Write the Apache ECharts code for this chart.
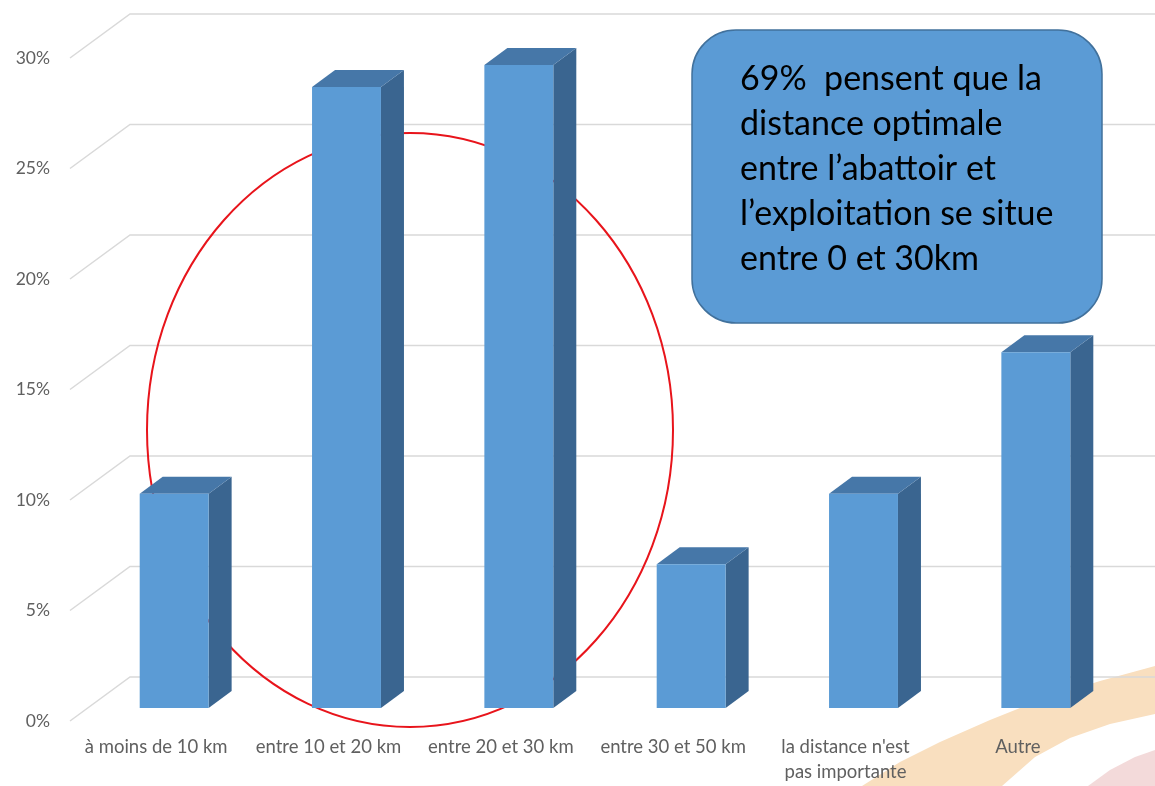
<!DOCTYPE html>
<html>
<head>
<meta charset="utf-8">
<script src="https://cdn.jsdelivr.net/npm/echarts@6/dist/echarts.min.js"></script>
<style>
html,body{margin:0;padding:0;background:#fff;}
#chart{width:1155px;height:786px;}
</style>
</head>
<body>
<div id="chart"></div>
<script>
// ---- data ----
const categories = ['à moins de 10 km', 'entre 10 et 20 km', 'entre 20 et 30 km', 'entre 30 et 50 km', "la distance n'est\npas importante", 'Autre'];
const values = [9.7, 28.1, 29.1, 6.5, 9.7, 16.1];
const yTicks = [0, 5, 10, 15, 20, 25, 30];
const calloutText = '69%  pensent que la\ndistance optimale\nentre l’abattoir et\nl’exploitation se situe\nentre 0 et 30km';

// ---- style constants ----
const FONT = 'Lato';
const WALL_DX = 60, WALL_DY = -44;     // back wall offset
const BAR_SHIFT_X = 18, BAR_SHIFT_Y = -13; // bar front face position in depth
const BAR_DX = 23, BAR_DY = -17;       // bar depth
const BAR_RATIO = 0.4;

const chart = echarts.init(document.getElementById('chart'), null, {renderer: 'canvas'});

const option = {
  animation: false,
  backgroundColor: '#ffffff',
  grid: {left: 70, right: 51, top: 58, bottom: 65, containLabel: false},
  xAxis: {
    type: 'category',
    data: categories,
    axisLine: {show: false},
    axisTick: {show: false},
    axisLabel: {interval: 0, margin: 14, fontSize: 18.5, lineHeight: 25, color: '#606060', fontFamily: FONT},
    splitLine: {show: false}
  },
  yAxis: {
    type: 'value',
    min: 0, max: 30, interval: 5,
    axisLine: {show: false},
    axisTick: {show: false},
    splitLine: {show: false},
    axisLabel: {formatter: '{value}%', margin: 20, fontSize: 17.5, color: '#606060', fontFamily: FONT}
  },
  graphic: [
    {
      type: 'polygon', z: 0, silent: true,
      shape: {points: [[862, 786], [900, 762], [940, 742], [990, 720], [1040, 700], [1100, 681], [1155, 666],
                       [1155, 714], [1110, 724], [1070, 738], [1035, 757], [1002, 786]]},
      style: {fill: '#f9dfbf'}
    },
    {
      type: 'polygon', z: 0, silent: true,
      shape: {points: [[1088, 786], [1110, 770], [1135, 757], [1155, 750], [1155, 786]]},
      style: {fill: '#f3dada'}
    },
    {
      type: 'ellipse', z: 2, silent: true,
      shape: {cx: 410, cy: 430, rx: 263, ry: 297},
      style: {fill: 'none', stroke: '#e8141b', lineWidth: 2}
    },
    {
      type: 'rect', z: 20, silent: true,
      shape: {x: 692, y: 30, width: 410, height: 293, r: 44},
      style: {fill: '#5b9bd5', stroke: '#41719c', lineWidth: 1.5}
    },
    {
      type: 'text', z: 21, silent: true,
      x: 740, y: 57,
      style: {text: calloutText, font: '34px ' + FONT, fill: '#000000', lineHeight: 45}
    }
  ],
  series: [
    {
      type: 'custom',
      z: 1,
      silent: true,
      data: yTicks.map(v => [0, v]),
      encode: {x: 0, y: 1},
      renderItem: function (params, api) {
        const cs = params.coordSys;
        const y = api.coord([0, api.value(1)])[1];
        const x0 = cs.x;
        return {
          type: 'polyline',
          shape: {points: [[x0, y], [x0 + WALL_DX, y + WALL_DY], [api.getWidth(), y + WALL_DY]]},
          style: {stroke: '#d9d9d9', lineWidth: 1.5, fill: 'none'}
        };
      }
    },
    {
      type: 'custom',
      z: 5,
      data: values.map((v, i) => [i, v]),
      encode: {x: 0, y: 1},
      renderItem: function (params, api) {
        const base = api.coord([api.value(0), 0]);
        const top = api.coord([api.value(0), api.value(1)]);
        const band = api.size([1, 0])[0];
        const w = band * BAR_RATIO;
        const x1 = base[0] - w / 2 + BAR_SHIFT_X;
        const x2 = x1 + w;
        const yb = base[1] + BAR_SHIFT_Y;
        const yt = top[1] + BAR_SHIFT_Y;
        return {
          type: 'group',
          children: [
            {
              type: 'polygon',
              shape: {points: [[x2, yt], [x2 + BAR_DX, yt + BAR_DY], [x2 + BAR_DX, yb + BAR_DY], [x2, yb]]},
              style: {fill: '#3a6590'}
            },
            {
              type: 'polygon',
              shape: {points: [[x1, yt], [x1 + BAR_DX, yt + BAR_DY], [x2 + BAR_DX, yt + BAR_DY], [x2, yt]]},
              style: {fill: '#4677a8'}
            },
            {
              type: 'rect',
              shape: {x: x1, y: yt, width: w, height: yb - yt},
              style: {fill: '#5b9bd5'}
            }
          ]
        };
      }
    }
  ]
};
chart.setOption(option);
</script>
</body>
</html>
